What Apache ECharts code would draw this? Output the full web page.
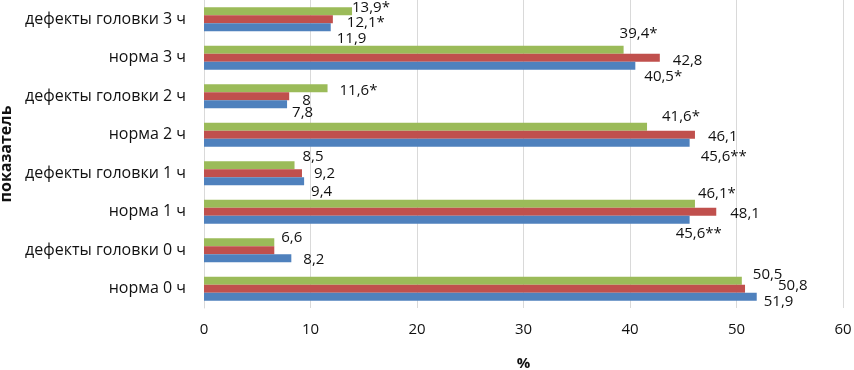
<!DOCTYPE html>
<html>
<head>
<meta charset="utf-8">
<script src="https://cdn.jsdelivr.net/npm/echarts@6/dist/echarts.min.js"></script>
<style>html,body{margin:0;padding:0;background:#fff}#c{width:854px;height:370px}</style>
</head>
<body>
<div id="c"></div>
<script>
// Categories, bottom to top
var categories = ['норма 0 ч','дефекты головки 0 ч','норма 1 ч','дефекты головки 1 ч','норма 2 ч','дефекты головки 2 ч','норма 3 ч','дефекты головки 3 ч'];
var blueValues  = [51.9, 8.2, 45.6, 9.4, 45.6, 7.8, 40.5, 11.9];
var redValues   = [50.8, 6.6, 48.1, 9.2, 46.1, 8, 42.8, 12.1];
var greenValues = [50.5, 6.6, 46.1, 8.5, 41.6, 11.6, 39.4, 13.9];
var blueMarks  = ['', '', '**', '', '**', '', '*', ''];
var redMarks   = ['', '', '', '', '', '', '', '*'];
var greenMarks = ['', '', '*', '', '*', '*', '*', '*'];
var redLabelShown = [true, false, true, true, true, true, true, true];
var xTicks = [0, 10, 20, 30, 40, 50, 60];

// label placement (style only)
var blueOffsets  = [[7,5],[12,1],[-14,14],[7,10],[11,14],[5,8],[9,11],[6,11]];
var redOffsets   = [[33,-3],[0,0],[14,2],[12,0],[13,2],[13,4],[13,3],[14,3]];
var greenOffsets = [[11,-6],[7,-5],[3,-10],[8,-9],[15,-10],[12,2],[-4,-16],[0,-4]];

var FONT = 'Open Sans';
function fmt(v, m){ return String(v).replace('.', ',') + m; }
function build(values, marks, offsets, shown){
  return values.map(function(v, i){
    return {
      value: v,
      label: {
        show: shown ? shown[i] : true,
        position: 'right',
        distance: 0,
        offset: offsets[i],
        formatter: fmt(v, marks[i])
      }
    };
  });
}
function mkSeries(name, color, values, marks, offsets, shown){
  return {
    name: name, type: 'bar', barWidth: 8, barGap: '0%',
    itemStyle: {color: color},
    label: {color: '#111', fontFamily: FONT, fontSize: 15},
    data: build(values, marks, offsets, shown),
    animation: false
  };
}
var chart = echarts.init(document.getElementById('c'));
chart.setOption({
  animation: false,
  grid: {left: 204, right: 11, top: 0, bottom: 62, containLabel: false, outerBoundsMode: 'none'},
  xAxis: {
    type: 'value', min: xTicks[0], max: xTicks[xTicks.length-1], interval: 10,
    name: '%', nameLocation: 'middle', nameGap: 48,
    nameTextStyle: {fontFamily: FONT, fontSize: 15, fontWeight: 'bold', color: '#111'},
    axisLine: {show: false}, axisTick: {show: false},
    axisLabel: {fontFamily: FONT, fontSize: 15, color: '#111', margin: 14},
    splitLine: {lineStyle: {color: '#d9d9d9'}}
  },
  yAxis: {
    type: 'category', data: categories,
    name: 'показатель', nameLocation: 'middle', nameGap: 188, nameRotate: 90,
    nameTextStyle: {fontFamily: FONT, fontSize: 16, fontWeight: 'bold', color: '#111'},
    axisLine: {show: true, lineStyle: {color: '#d9d9d9'}},
    axisTick: {show: false},
    axisLabel: {fontFamily: FONT, fontSize: 16, color: '#111', margin: 18}
  },
  series: [
    mkSeries('green', '#9BBB59', greenValues, greenMarks, greenOffsets),
    mkSeries('red', '#C0504D', redValues, redMarks, redOffsets, redLabelShown),
    mkSeries('blue', '#4F81BD', blueValues, blueMarks, blueOffsets)
  ]
});
</script>
</body>
</html>
